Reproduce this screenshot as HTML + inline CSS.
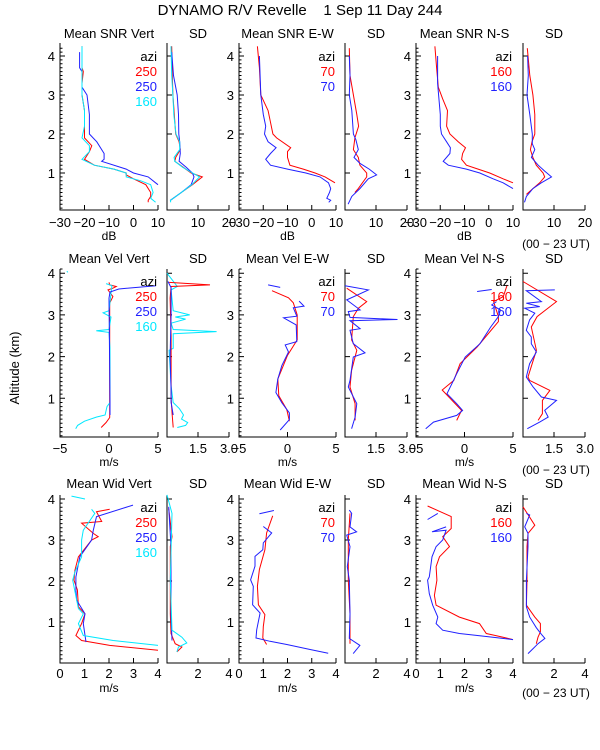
<!DOCTYPE html>
<html><head><meta charset="utf-8"><style>
html,body{margin:0;padding:0;background:#fff;}
svg{display:block;font-family:"Liberation Sans",sans-serif;}
</style></head><body>
<svg id="chart" width="600" height="750" viewBox="0 0 600 750" xmlns="http://www.w3.org/2000/svg">
<rect x="0" y="0" width="600" height="750" fill="#fff"/>
<text x="300" y="15" text-anchor="middle" font-size="15" xml:space="preserve">DYNAMO R/V Revelle    1 Sep 11 Day 244</text>
<text x="0" y="0" transform="translate(19,368) rotate(-90)" text-anchor="middle" font-size="13">Altitude (km)</text>
</svg>
<script>
// ---- data: [altitude km, value] pairs; null = gap ----
const snrVertRed=[[4.25,-21],[3.7,-21],[3.6,-20.5],[3.3,-21],[3.0,-21],[2.6,-20],[2.2,-20],[1.9,-20],[1.7,-17],[1.55,-18],[1.35,-20],[1.2,-16],[1.1,-8],[1.0,-3],[0.95,-3],[0.85,0],[0.7,5],[0.5,7],[0.4,7],[0.3,6],[0.25,6]];
const snrVertBlue=[[4.1,-22],[3.7,-22],[3.6,-21],[3.2,-21],[3.0,-19],[2.5,-18],[2.0,-18],[1.8,-15],[1.5,-12],[1.35,-12],[1.3,-13],[1.1,-3],[1.0,0],[0.9,6],[0.75,9],[0.7,10]];
const snrVertCyan=[[4.25,-21],[3.3,-21],[3.0,-21],[2.6,-20],[2.2,-20],[1.9,-21],[1.7,-18],[1.55,-18],[1.35,-21],[1.2,-16],[1.1,-8],[1.0,-3],[0.9,-3],[0.8,3],[0.7,7],[0.5,8],[0.35,7],[0.25,9]];
const snrVertSdRed=[[4.25,1.5],[3.5,1.7],[3.0,1.9],[2.0,2.8],[1.8,3.9],[1.6,4.3],[1.4,2.8],[1.3,2.5],[1.15,5.2],[1.0,7.8],[0.9,11.4],[0.7,8.2],[0.5,4.6],[0.3,1.1]];
const snrVertSdBlue=[[4.1,1.5],[3.5,2.1],[3.0,3.3],[2.5,3.7],[2.0,3.8],[1.8,4.1],[1.5,4.3],[1.3,3.9],[1.15,6.2],[1.0,8.2],[0.9,8.7],[0.7,7.8],[0.5,4.6],[0.3,1.1]];
const snrVertSdCyan=[[4.25,1.3],[3.5,1.5],[3.0,1.9],[2.5,2.2],[2.0,2.9],[1.8,4.1],[1.6,4.1],[1.4,2.3],[1.3,2.5],[1.15,5.0],[1.0,8.2],[0.9,10.5],[0.7,8.0],[0.5,4.6],[0.3,1.1],[0.25,1.2]];
const snrEwRed=[[4.25,-22.4],[3.7,-21.6],[3.0,-21],[2.6,-18],[2.3,-17],[2.0,-16],[1.9,-14.5],[1.65,-8.7],[1.55,-10],[1.4,-10],[1.2,-9],[1.1,-3.5],[1.0,1.4],[0.9,5.5],[0.75,9.6]];
const snrEwBlue=[[4.0,-21.6],[3.5,-21.3],[3.0,-21],[2.5,-20],[2.2,-19],[2.0,-19.5],[1.8,-18],[1.65,-14.7],[1.5,-17],[1.35,-19],[1.2,-17],[1.1,-10],[1.0,-2.4],[0.9,3.4],[0.75,6.9],[0.6,7.8],[0.5,7.3],[0.35,6.2],[0.3,7.8],[0.25,7]];
const snrEwSdRed=[[4.2,1.4],[3.5,1.6],[3.0,2.7],[2.5,3.8],[2.2,4.4],[1.9,3.2],[1.6,2.7],[1.4,4.3],[1.2,4.8],[1.0,7],[0.9,7],[0.6,4.3],[0.5,3.2]];
const snrEwSdBlue=[[4.0,1.4],[3.5,1.6],[3.0,1.4],[2.6,2.2],[2.0,2.7],[1.85,3.5],[1.6,4.3],[1.4,2.9],[1.25,4.8],[1.1,7.8],[0.95,10.2],[0.85,7.5],[0.6,4.8],[0.4,2.2],[0.2,1]];
const snrNsRed=[[4.25,-22.2],[3.7,-21.5],[3.2,-20.8],[2.9,-19],[2.6,-17],[2.2,-17.4],[2.0,-16],[1.8,-12.6],[1.65,-9.6],[1.5,-10.8],[1.35,-11.2],[1.2,-9.2],[1.1,-4.4],[1.0,0.4],[0.85,5.9],[0.75,10]];
const snrNsBlue=[[4.0,-21.1],[3.3,-21.1],[3.0,-20.7],[2.5,-20],[2.2,-20],[2.0,-19.5],[1.8,-17.4],[1.65,-15.8],[1.5,-16],[1.3,-18.8],[1.2,-16.7],[1.1,-9.2],[1.0,-3.7],[0.85,1.8],[0.75,5.9],[0.6,10]];
const snrNsSdRed=[[4.2,1.4],[3.5,2.2],[3.0,3.2],[2.5,3.8],[2.0,3.8],[1.8,2.9],[1.6,2.4],[1.4,3.2],[1.2,4.3],[1.0,6.5],[0.9,7],[0.75,5.4],[0.6,3.2],[0.45,1.1]];
const snrNsSdBlue=[[4.0,1.5],[3.5,1.7],[3.0,1.3],[2.5,2.2],[2.0,3],[1.75,3],[1.6,3.8],[1.4,2.7],[1.2,4.9],[1.05,7],[0.9,9.2],[0.75,5.9],[0.6,3.2],[0.4,1.1],[0.25,0.5]];

const velVertRed=[[3.78,0.0],[3.72,0.07],[3.68,0.75],[3.64,0.4],[3.6,-0.1],[3.44,0.4],[3.28,0.07],[2.63,0.07],[1.0,0.07],[0.54,0.07],[0.42,-0.3],[0.3,-0.8]];
const velVertBlue=[[3.7,4.8],[3.62,1.0],[3.55,0.1],[3.4,0.0],[0.9,0.1],[0.6,0.1]];
const velVertCyan=[[4.05,-4.3],[4.02,-4.2],null,[3.75,-0.3],[3.7,0.3],[3.1,0.0],[3.05,-0.6],[2.95,0.2],[2.65,0],[2.62,-1.3],[2.58,0],[2.2,0.1],[0.9,0.1],[0.8,-0.2],[0.6,-0.4],[0.55,-1.3],[0.45,-2.5],[0.35,-3.2],[0.27,-3.4]];
const velVertSdRed=[[3.78,0.1],[3.72,2.08],[3.68,0.2],[3.4,0.15],[2.5,0.2],[1.0,0.2],[0.6,0.25],[0.3,0.3]];
const velVertSdBlue=[[3.8,0.05],[3.65,0.2],[3.3,0.2],[3.0,0.2],[2.0,0.15],[1.2,0.2],[0.9,0.2],[0.6,0.3]];
const velVertSdCyan=[[4.0,0.0],[3.68,0.5],[3.6,0.2],[3.1,0.3],[3.0,1.1],[2.95,0.4],[2.9,0.9],[2.8,0.2],[2.65,0.3],[2.6,2.4],[2.55,0.3],[2.2,0.3],[2.15,0.1],[1.3,0.2],[0.9,0.3],[0.75,0.6],[0.6,0.8],[0.5,0.7],[0.42,1.0],[0.35,0.9],[0.3,0.5]];
const velEwRed=[[3.58,-1.6],[3.41,0.1],[3.29,0.6],[3.0,1.0],[2.4,1.0],[2.03,0],[1.46,-1.0],[1.06,-0.9],[0.73,-0.07],[0.45,0.2]];
const velEwBlue=[[3.72,-2.0],[3.66,-0.75],null,[3.33,1.2],[3.21,1.7],[3.17,0.6],[2.97,0.96],[2.93,-0.4],[2.76,0.9],[2.36,0.96],[2.28,-0.24],[2.11,0.1],[1.79,-0.58],[1.46,-1.0],[1.14,-1.2],[0.89,-0.58],[0.65,0.2],[0.49,0.2],[0.24,-0.75]];
const velEwSdRed=[[3.64,0.08],[3.32,1.05],[3.16,0.65],[2.96,0.4],[2.4,0.32],[2.15,0.57],[1.67,0.32],[1.27,0.24],[0.87,0.49],[0.47,0.49]];
const velEwSdBlue=[[3.7,0],[3.6,1.13],[3.36,0.08],[3.12,0.73],[3.08,0.16],[2.94,0.24],[2.89,2.54],[2.86,0.24],[2.67,0.73],[2.63,0.24],[2.31,0.4],[2.09,0.97],[1.99,0.4],[1.43,0.24],[1.27,0.16],[0.95,0.49],[0.87,0.57],[0.55,0.49],[0.27,0.32]];
const velNsRed=[[3.72,4.4],[3.44,4.0],[3.32,3.0],[2.96,3.5],[2.84,3.5],[2.23,1.3],[1.83,-0.45],[1.43,-1.1],[1.2,-2.3],[0.71,-0.3],[0.47,-0.8]];
const velNsBlue=[[3.56,1.3],[3.61,2.8],null,[3.32,3.3],[3.24,2.8],[3.12,3.7],[2.96,3.5],[2.71,2.7],[2.31,1.6],[1.99,0.07],[1.59,-0.8],[1.35,-1.3],[1.11,-1.8],[0.87,-0.8],[0.71,-0.2],[0.59,-0.8],[0.43,-3.2],[0.27,-4.0]];
const velNsSdRed=[[3.8,0],[3.32,1.62],[2.96,0.68],[2.71,0.4],[2.15,0.65],[1.51,0.24],[1.43,0.32],[1.19,1.3],[0.95,0.94],[0.63,0.94],[0.47,0.73]];
const velNsSdBlue=[[3.6,1.54],[3.58,0.16],[3.32,0.89],[3.28,0.16],[3.2,0.81],[3.16,0.08],[3.04,0.57],[2.88,0.32],[2.63,0.16],[2.47,0.4],[2.31,0.4],[2.11,0.65],[1.83,0.32],[1.51,0.16],[1.27,0.49],[1.03,0.89],[0.95,1.62],[0.71,1.05],[0.55,1.22],[0.43,0.81],[0.27,0.21]];

const widVertRed=[[3.75,2.03],[3.69,1.49],[3.45,1.7],[3.41,0.88],[3.16,1.36],[3.08,1.56],[3.0,1.29],[2.59,0.75],[2.26,0.61],[2.02,0.57],[1.78,0.71],[1.37,0.75],[1.2,1.02],[0.96,0.88],[0.67,0.65],[0.55,0.88],[0.43,2.03],[0.31,4.0]];
const widVertBlue=[[3.85,2.98],[3.57,1.49],[3.24,1.36],[3.0,1.29],[2.59,0.81],[2.1,0.65],[1.78,0.65],[1.53,0.68],[1.2,1.02],[0.96,0.95],[0.51,1.06]];
const widVertCyan=[[4.07,0.47],[4.0,1.02],null,[3.75,1.29],[3.65,1.42],[3.24,0.95],[3.0,0.88],[2.59,0.88],[2.22,0.61],[2.02,0.52],[1.53,0.68],[1.33,0.75],[1.2,0.95],[0.96,0.75],[0.67,0.95],[0.55,2.17],[0.43,4.0]];
const widVertSdRed=[[3.77,0.11],[3.08,0.32],[2.84,0.21],[1.2,0.21],[0.72,0.26],[0.47,0.53],[0.39,0.96],[0.27,0.64]];
const widVertSdBlue=[[3.81,0.11],[2.84,0.26],[1.2,0.26],[0.55,0.32]];
const widVertSdCyan=[[4.1,0],[3.65,0.32],[2.02,0.21],[0.8,0.32],[0.63,0.96],[0.49,1.28],[0.39,0.74],[0.27,0.64]];
const widEwRed=[[3.59,1.39],[3.17,1.14],[2.76,1.07],[2.28,0.84],[1.87,0.76],[1.42,0.8],[1.18,1.07],[0.89,1.0],[0.61,0.98],[0.45,1.14]];
const widEwBlue=[[3.72,1.44],[3.64,0.84],null,[3.33,1.0],[3.17,1.35],[2.93,1.0],[2.76,0.98],[2.6,0.66],[2.36,0.66],[2.03,0.48],[1.87,0.59],[1.42,0.56],[1.22,0.87],[0.81,0.73],[0.61,0.7],[0.53,1.28],[0.45,1.97],[0.33,2.93],[0.24,3.68]];
const widEwSdRed=[[3.65,0.32],[3.0,0.21],[2.02,0.21],[1.2,0.32],[0.47,0.32]];
const widEwSdBlue=[[3.73,0.28],[3.65,0.43],[3.32,0.32],[3.2,0.75],[3.12,0.11],[2.84,0.32],[2.35,0.15],[2.02,0.28],[1.2,0.32],[0.6,0.28],[0.43,0.96],[0.23,0.53]];
const widNsRed=[[3.83,0.48],[3.57,1.45],[3.28,1.45],[3.08,1.1],[2.84,1.38],[2.59,0.97],[2.35,0.83],[2.02,0.86],[1.65,0.76],[1.41,0.83],[1.12,1.79],[0.96,2.62],[0.72,2.9],[0.63,3.59],[0.57,4.0]];
const widNsBlue=[[3.5,0.48],[3.65,0.9],null,[3.32,1.24],[3.2,0.66],[3.24,1.24],[3.0,1.1],[2.84,0.83],[2.59,0.66],[2.1,0.55],[2.02,0.48],[1.69,0.55],[1.41,0.69],[1.12,0.9],[0.96,0.83],[0.8,1.1],[0.72,1.79],[0.63,3.17],[0.57,4.0]];
const widNsSdRed=[[3.81,0],[3.36,0.76],[3.16,0.32],[2.84,0.26],[2.02,0.26],[1.41,0.22],[1.12,0.76],[0.96,1.12],[0.76,1.12],[0.63,0.97],[0.47,0.86]];
const widNsSdBlue=[[3.65,0.22],[3.61,0.43],[3.32,0.11],[3.16,0.32],[2.84,0.32],[2.02,0.22],[1.37,0.22],[1.12,0.43],[0.86,0.86],[0.7,1.19],[0.6,1.41],[0.47,0.97],[0.35,0.65],[0.23,0.32]];

// tick labels
const snrMeanTicks=[-30,-20,-10,0,10];
const snrSdTicks=[0,10,20];
const velMeanTicks=[-5,0,5];
const velSdTicks=[0,1.5,3.0];
const widMeanTicks=[0,1,2,3,4];
const widSdTicks=[0,2,4];
const altTicks=[1,2,3,4];
const panelTitles=[["Mean SNR Vert","SD","Mean SNR E-W","SD","Mean SNR N-S","SD"],["Mean Vel Vert","SD","Mean Vel E-W","SD","Mean Vel N-S","SD"],["Mean Wid Vert","SD","Mean Wid E-W","SD","Mean Wid N-S","SD"]];
const legendVert=["250","250","160"];
const legendEw=["70","70"];
const legendNs=["160","160"];

// ---- layout ----
const svg=document.getElementById('chart');
const NS='http://www.w3.org/2000/svg';
const cols=[[60,158],[167,229],[239,336],[345,407],[416,513],[523,585]];
const rows=[{top:43,bot:210,y0:212,k:39,ylab:227,unit:240,title:38,leg:56},
            {top:269,bot:437,y0:440,k:41.7,ylab:453,unit:466,title:263,leg:281},
            {top:495,bot:663,y0:663,k:41,ylab:678,unit:692,title:488,leg:507}];
const COL={r:'#ff0000',b:'#2020ff',c:'#00e8ff'};
function el(tag,attrs,parent){const e=document.createElementNS(NS,tag);for(const k in attrs)e.setAttribute(k,attrs[k]);(parent||svg).appendChild(e);return e;}
function fmt(v){return String(v).replace('-','\u2212');}

function panel(ri,ci,name,xmin,xmax,ticks,labelSkipFirst,series,unit,legend){
  const r=rows[ri],[x0,x1]=cols[ci];
  const g=el('g',{});
  
  
  const xs=v=>x0+(v-xmin)/(xmax-xmin)*(x1-x0);
  const ys=a=>r.y0-a*r.k;
  const t=el('text',{x:(x0+x1)/2,y:r.title,'text-anchor':'middle','font-size':13},g);
  t.textContent=panelTitles[ri][ci];
  
  
  let d=`M${x0},${r.top}V${r.bot}H${x1}`;
  const isMean=ci%2===0;
  altTicks.forEach(a=>{d+=`M${x0},${ys(a)}h5`;});
  if(isMean){for(let a=0.1;a<4.3;a+=0.1){const y=ys(a);if(y>r.top&&y<r.bot)d+=`M${x0},${y.toFixed(1)}h2.5`;}}
  ticks.forEach(v=>{d+=`M${xs(v)},${r.bot}v-5`;});
  const ax=el('path',{d:d,stroke:'#000','stroke-width':1,fill:'none'},g);
  
  
  if(isMean){altTicks.forEach(a=>{const tl=el('text',{x:x0-5,y:ys(a)+5,'text-anchor':'end','font-size':13},g);tl.textContent=a;
    
    });}
  ticks.forEach((v,i)=>{if(labelSkipFirst&&i===0)return;const tl=el('text',{x:xs(v),y:r.ylab,'text-anchor':'middle','font-size':13},g);tl.textContent=(v===3&&ri===1)?'3.0':fmt(v);
    
    });
  if(unit){const u=el('text',{x:(x0+x1)/2,y:r.unit,'text-anchor':'middle','font-size':12},g);u.textContent=unit;
    
    }
  series.forEach(([data,c])=>{
    let pd='',pen=false;
    data.forEach(p=>{if(!p){pen=false;return;}pd+=(pen?'L':'M')+xs(p[1]).toFixed(1)+','+ys(p[0]).toFixed(1);pen=true;});
    const pl=el('path',{d:pd,stroke:COL[c],'stroke-width':1,fill:'none'},g);
    
    
  });
  if(legend){
    const lx=x1-1;const items=[['azi','#000']].concat(legend.map((s,i)=>[s,[COL.r,COL.b,COL.c][i]]));
    items.forEach(([s,c],i)=>{const lt=el('text',{x:lx,y:r.leg+5+i*15,'text-anchor':'end','font-size':13,fill:c},g);lt.textContent=s;
      
      });
  }
}
// row 1
panel(0,0,'snr-vert-mean',-30,10,snrMeanTicks,false,[[snrVertRed,'r'],[snrVertBlue,'b'],[snrVertCyan,'c']],'dB',legendVert);
panel(0,1,'snr-vert-sd',0,20,snrSdTicks,true,[[snrVertSdRed,'r'],[snrVertSdBlue,'b'],[snrVertSdCyan,'c']],null,null);
panel(0,2,'snr-ew-mean',-30,10,snrMeanTicks,false,[[snrEwRed,'r'],[snrEwBlue,'b']],'dB',legendEw);
panel(0,3,'snr-ew-sd',0,20,snrSdTicks,true,[[snrEwSdRed,'r'],[snrEwSdBlue,'b']],null,null);
panel(0,4,'snr-ns-mean',-30,10,snrMeanTicks,false,[[snrNsRed,'r'],[snrNsBlue,'b']],'dB',legendNs);
panel(0,5,'snr-ns-sd',0,20,snrSdTicks,true,[[snrNsSdRed,'r'],[snrNsSdBlue,'b']],null,null);
// row 2
panel(1,0,'vel-vert-mean',-5,5,velMeanTicks,false,[[velVertRed,'r'],[velVertCyan,'c'],[velVertBlue,'b']],'m/s',legendVert);
panel(1,1,'vel-vert-sd',0,3,velSdTicks,true,[[velVertSdCyan,'c'],[velVertSdRed,'r'],[velVertSdBlue,'b']],null,null);
panel(1,2,'vel-ew-mean',-5,5,velMeanTicks,false,[[velEwRed,'r'],[velEwBlue,'b']],'m/s',legendEw);
panel(1,3,'vel-ew-sd',0,3,velSdTicks,true,[[velEwSdRed,'r'],[velEwSdBlue,'b']],null,null);
panel(1,4,'vel-ns-mean',-5,5,velMeanTicks,false,[[velNsRed,'r'],[velNsBlue,'b']],'m/s',legendNs);
panel(1,5,'vel-ns-sd',0,3,velSdTicks,true,[[velNsSdRed,'r'],[velNsSdBlue,'b']],null,null);
// row 3
panel(2,0,'wid-vert-mean',0,4,widMeanTicks,false,[[widVertRed,'r'],[widVertBlue,'b'],[widVertCyan,'c']],'m/s',legendVert);
panel(2,1,'wid-vert-sd',0,4,widSdTicks,true,[[widVertSdRed,'r'],[widVertSdBlue,'b'],[widVertSdCyan,'c']],null,null);
panel(2,2,'wid-ew-mean',0,4,widMeanTicks,false,[[widEwRed,'r'],[widEwBlue,'b']],'m/s',legendEw);
panel(2,3,'wid-ew-sd',0,4,widSdTicks,true,[[widEwSdRed,'r'],[widEwSdBlue,'b']],null,null);
panel(2,4,'wid-ns-mean',0,4,widMeanTicks,false,[[widNsRed,'r'],[widNsBlue,'b']],'m/s',legendNs);
panel(2,5,'wid-ns-sd',0,4,widSdTicks,true,[[widNsSdRed,'r'],[widNsSdBlue,'b']],null,null);
// UT notes
[244,470,693].forEach(y=>{const t=el('text',{x:556,y:y+4,'text-anchor':'middle','font-size':12},svg);t.textContent='(00 \u2212 23 UT)';
  
  });
</script>
</body></html>
